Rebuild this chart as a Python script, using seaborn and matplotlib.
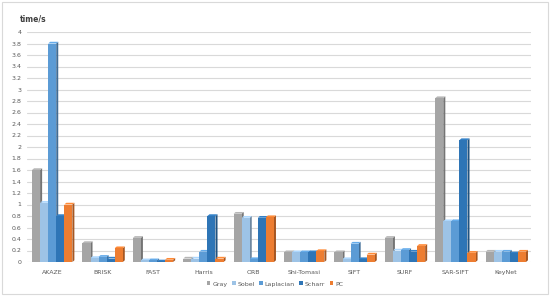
import matplotlib
matplotlib.use("Agg")
import matplotlib.pyplot as plt
import matplotlib.colors as mcolors
from matplotlib.patches import Polygon
import seaborn as sns
import pandas as pd
import numpy as np

methods = ["AKAZE", "BRISK", "FAST", "Harris", "ORB", "Shi-Tomasi", "SIFT", "SURF", "SAR-SIFT", "KeyNet"]
gray      = [1.60, 0.33, 0.42, 0.06, 0.84, 0.17, 0.17, 0.42, 2.85, 0.18]
sobel     = [1.03, 0.07, 0.03, 0.06, 0.77, 0.17, 0.05, 0.20, 0.71, 0.18]
laplacian = [3.80, 0.09, 0.03, 0.18, 0.05, 0.17, 0.32, 0.21, 0.71, 0.18]
scharr    = [0.80, 0.06, 0.01, 0.80, 0.77, 0.17, 0.05, 0.18, 2.12, 0.15]
pc        = [1.00, 0.24, 0.04, 0.06, 0.78, 0.19, 0.13, 0.28, 0.16, 0.18]
series_names = ["Gray", "Sobel", "Laplacian", "Scharr", "PC"]
colors = ["#A5A5A5", "#9DC3E6", "#5B9BD5", "#2E75B6", "#ED7D31"]
yticks = [round(0.2 * i, 1) for i in range(21)]

rows = []
for name, vals in zip(series_names, [gray, sobel, laplacian, scharr, pc]):
    for m, v in zip(methods, vals):
        rows.append({"method": m, "series": name, "time": v})
df = pd.DataFrame(rows)

sns.set_theme(style="white")
plt.rcParams['font.family'] = ['DejaVu Sans']

fig = plt.figure(figsize=(5.5, 2.96), dpi=100)
fig.patch.set_facecolor("white")
fig.add_artist(plt.Rectangle((0.004, 0.006), 0.992, 0.988, transform=fig.transFigure,
                             fill=False, edgecolor="#D9D9D9", linewidth=0.8))

ax = fig.add_axes([27/550, 1-262/296, 504/550, 230/296])
sns.barplot(data=df, x="method", y="time", hue="series", palette=colors,
            order=methods, hue_order=series_names, width=0.8, ax=ax,
            edgecolor="none", saturation=1, legend=True)

ax.set_ylim(0, 4)
ax.set_xlim(-0.5, len(methods) - 0.5)

# pseudo-3D side and top faces derived from each drawn bar
dx = 0.04
dy = 0.03
bars = [p for p in ax.patches if p.get_height() > 0 and p.get_width() < 0.5]
for p in bars:
    x0 = p.get_x(); w = p.get_width(); h = p.get_height()
    c = np.array(mcolors.to_rgb(p.get_facecolor()))
    side = Polygon([(x0 + w, 0), (x0 + w + dx, dy), (x0 + w + dx, h + dy), (x0 + w, h)],
                   closed=True, facecolor=c * 0.7, edgecolor="none", zorder=p.get_zorder() - 0.1)
    top = Polygon([(x0, h), (x0 + dx, h + dy), (x0 + w + dx, h + dy), (x0 + w, h)],
                  closed=True, facecolor=np.minimum(c * 1.1, 1), edgecolor="none", zorder=p.get_zorder() - 0.1)
    ax.add_patch(side)
    ax.add_patch(top)

ax.set_yticks(yticks)
ax.set_yticklabels([f"{t:g}" for t in yticks], fontsize=4.5, color="#595959")
ax.tick_params(axis="x", labelsize=4.5, colors="#595959", length=0, pad=6)
ax.tick_params(axis="y", length=0, pad=4)
ax.set_xlabel("")
ax.set_ylabel("")
ax.grid(axis="y", color="#D9D9D9", linewidth=0.8)
ax.set_axisbelow(True)
for s in ax.spines.values():
    s.set_visible(False)

fig.text(20/550, 1-19/296, "time/s", fontsize=5.5, color="#404040", va="center", ha="left",
         fontweight="bold")

handles, labels = ax.get_legend_handles_labels()
ax.legend_.remove()
fig.legend(handles, labels, loc="center", bbox_to_anchor=(275/550, 1-284/296), ncol=5,
           frameon=False, fontsize=4.5, handlelength=0.6, handleheight=0.6,
           handletextpad=0.3, columnspacing=0.7, labelcolor="#595959")

fig.savefig("out.png", dpi=100, facecolor="white")
